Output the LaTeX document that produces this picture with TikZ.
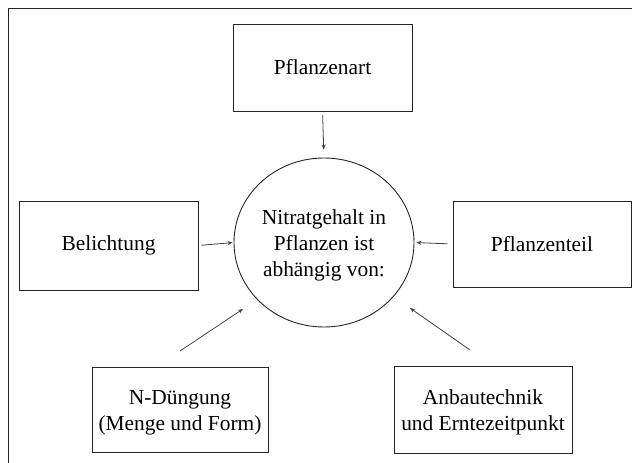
\documentclass[tikz,border=0pt]{standalone}
\usepackage{fontspec}
\setmainfont{Liberation Serif}
\usetikzlibrary{shapes.geometric,arrows.meta}
\newcommand{\topstrut}{\rule{0pt}{21.5pt}}
\begin{document}
\begin{tikzpicture}[x=1pt,y=-1pt,
  box/.style={draw=black!85,line width=0.9pt,inner sep=0pt,align=center,
    font=\fontsize{21.4}{26}\selectfont},
  conn/.style={draw=black!75,line width=0.8pt,-{Stealth[length=5pt,width=4pt]}}]
\useasboundingbox (0,0) rectangle (632,463);
\draw[black!85,line width=0.9pt] (8,463) -- (8,8) -- (632,8);
\node[box,minimum width=179,minimum height=87] (art) at (322.5,67.5) {Pflanzenart};
\node[box,minimum width=179,minimum height=89] (bel) at (108.5,245.5) {Belichtung};
\node[box,minimum width=178,minimum height=86] (teil) at (542,244) {Pflanzenteil};
\node[box,minimum width=176,minimum height=85] (dung) at (180,409.5) {\topstrut N-Düngung\\(Menge und Form)};
\node[box,minimum width=178,minimum height=87] (anbau) at (483,409.5) {\topstrut Anbautechnik\\und Erntezeitpunkt};
\node[box,ellipse,minimum width=180,minimum height=169] (nit) at (324,242.5)
  {\topstrut Nitratgehalt in\\Pflanzen ist\\abhängig von:};
\coordinate (d1) at (180,351);
\coordinate (d2) at (243,309);
\coordinate (a1) at (470,350);
\coordinate (a2) at (410,308);
\draw[conn,shorten <=4pt,shorten >=8pt] (art.south) -- (nit.north);
\draw[conn,shorten <=3pt,shorten >=1pt] (bel.east) -- (nit.west);
\draw[conn,shorten <=5pt,shorten >=2pt] (teil.west) -- (nit.east);
\draw[conn] (d1) -- (d2);
\draw[conn] (a1) -- (a2);
\end{tikzpicture}
\end{document}
